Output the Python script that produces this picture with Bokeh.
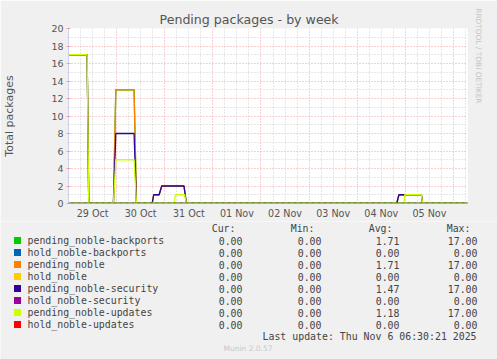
from bokeh.plotting import figure
from bokeh.models import Range1d, FixedTicker, Span, Title
from bokeh.layouts import column
from bokeh.core.properties import value
from bokeh.embed import file_html
from bokeh.resources import INLINE

# ---------------- data (hours since 29 Oct 00:00) ----------------
series_names = ["pending_noble-backports", "hold_noble-backports", "pending_noble",
                "hold_noble", "pending_noble-security", "hold_noble-security",
                "pending_noble-updates", "hold_noble-updates"]
series_colors = ["#00CC00", "#0066B3", "#FF8000", "#FFCC00",
                 "#330099", "#990099", "#CCFF00", "#FF0000"]

hours_noble = [0, 9.3, 10.1, 22.4, 23.6, 32.7, 33.9, 41.7, 42.5, 45.2, 46.5, 57.6, 58.8,
               163.7, 164.8, 176.0, 176.6, 199]
vals_backports = [17, 17, 0, 0, 13, 13, 0, 0, 1, 1, 2, 2, 0, 0, 1, 1, 0, 0]
vals_noble = [17, 17, 0, 0, 13, 13, 0, 0, 1, 1, 2, 2, 0, 0, 1, 1, 0, 0]
vals_security = [17, 17, 0, 0, 8, 8, 0, 0, 1, 1, 2, 2, 0, 0, 1, 1, 0, 0]
hours_updates = [0, 9.3, 10.1, 22.4, 23.6, 32.7, 33.9, 52.6, 53.4, 57.9, 58.8,
                 167.3, 167.7, 176.0, 176.6, 199]
vals_updates = [17, 17, 0, 0, 5, 5, 0, 0, 1, 1, 0, 0, 1, 1, 0, 0]
hours_hold = [0, 199]
vals_hold = [0, 0]

day_label_hours = [12, 36, 60, 84, 108, 132, 156, 180]
day_labels = ["29 Oct", "30 Oct", "31 Oct", "01 Nov", "02 Nov", "03 Nov", "04 Nov", "05 Nov"]
midnight_hours = [0, 24, 48, 72, 96, 120, 144, 168, 192]
six_hour_marks = [h for h in range(6, 199, 6) if h % 24 != 0]
y_major = list(range(0, 21, 2))
y_minor = list(range(1, 20, 2))

cur_vals = [0.00, 0.00, 0.00, 0.00, 0.00, 0.00, 0.00, 0.00]
min_vals = [0.00, 0.00, 0.00, 0.00, 0.00, 0.00, 0.00, 0.00]
avg_vals = [1.71, 0.00, 1.71, 0.00, 1.47, 0.00, 1.18, 0.00]
max_vals = [17.00, 0.00, 17.00, 0.00, 17.00, 0.00, 17.00, 0.00]
stat_headers = ["Cur:", "Min:", "Avg:", "Max:"]

title = "Pending packages - by week"
y_label = "Total packages"
last_update = "Last update: Thu Nov  6 06:30:21 2025"
munin_version = "Munin 2.0.57"
rrd_credit = "RRDTOOL / TOBI OETIKER"

# ---------------- layout ----------------
W, H = 497, 359
HA = 221                      # chart part height
HB = H - HA                   # legend part height
FL, FR, FT, FB = 67, 467, 28, 203
XMAX, YMAX = 199, 20
BG = "#F0F0F0"
TXT = "#555555"
PINK = "#F2A0A0"
GRAY = "#CFCFCF"

p = figure(width=W, height=HA, output_backend="svg", toolbar_location=None,
           x_range=Range1d(0, XMAX), y_range=Range1d(0, YMAX),
           min_border_left=FL, min_border_right=W - FR,
           min_border_top=FT, min_border_bottom=HA - FB)
p.background_fill_color = "white"
p.border_fill_color = BG
p.outline_line_color = None

# title
p.title.text = title
p.title.align = "left"
p.title.offset = 91
p.title.standoff = 3
p.title.text_font = "DejaVu Sans"
p.title.text_font_size = "12.6px"
p.title.text_font_style = "normal"
p.title.text_color = TXT

# right-side credit
p.add_layout(Title(text=rrd_credit, align="right", offset=100, standoff=13,
                   text_font="DejaVu Sans", text_font_size="7.4px",
                   text_font_style="normal", text_color="#C4C4C4"), "right")

# x axis
p.xaxis.ticker = FixedTicker(ticks=day_label_hours)
p.xaxis.major_label_overrides = {h: l for h, l in zip(day_label_hours, day_labels)}
p.xaxis.major_tick_out = 0
p.xaxis.major_tick_in = 0
p.xaxis.minor_tick_out = 0
p.xaxis.minor_tick_in = 0
p.xaxis.major_tick_line_color = None
p.xaxis.minor_tick_line_color = None
p.xaxis.axis_line_color = "#D0D0F0"
p.xaxis.major_label_text_font = "DejaVu Sans"
p.xaxis.major_label_text_font_size = "9.6px"
p.xaxis.major_label_text_color = TXT
p.xaxis.major_label_standoff = 4
p.xgrid.ticker = FixedTicker(ticks=midnight_hours, minor_ticks=six_hour_marks)
p.xgrid.grid_line_color = PINK
p.xgrid.grid_line_dash = "1 2"
p.xgrid.minor_grid_line_color = GRAY
p.xgrid.minor_grid_line_dash = "1 2"

# y axis
p.yaxis.ticker = FixedTicker(ticks=y_major, minor_ticks=y_minor)
p.yaxis.major_tick_line_color = PINK
p.yaxis.major_tick_out = 2
p.yaxis.major_tick_in = 2
p.yaxis.minor_tick_line_color = GRAY
p.yaxis.minor_tick_out = 1
p.yaxis.minor_tick_in = 1
p.yaxis.axis_line_color = "#D0D0F0"
p.yaxis.major_label_text_font = "DejaVu Sans"
p.yaxis.major_label_text_font_size = "9.5px"
p.yaxis.major_label_text_color = TXT
p.yaxis.major_label_standoff = 3
p.yaxis.axis_label = y_label
p.yaxis.axis_label_text_font = "DejaVu Sans"
p.yaxis.axis_label_text_font_size = "11px"
p.yaxis.axis_label_text_font_style = "normal"
p.yaxis.axis_label_text_color = TXT
p.yaxis.axis_label_standoff = 32
p.ygrid.grid_line_color = PINK
p.ygrid.grid_line_dash = "1 2"
p.ygrid.minor_grid_line_color = GRAY
p.ygrid.minor_grid_line_dash = "1 2"

# series lines (munin draw order)
series_data = [
    (hours_noble, vals_backports),
    (hours_hold, vals_hold),
    (hours_noble, vals_noble),
    (hours_hold, vals_hold),
    (hours_noble, vals_security),
    (hours_hold, vals_hold),
    (hours_updates, vals_updates),
    (hours_hold, vals_hold),
]
for (xs, ys), c in zip(series_data, series_colors):
    p.line(xs, ys, line_color=c, line_width=1.3)

# zero line look: green with pink dashes
p.add_layout(Span(location=0, dimension="width", line_color="#00CC00", line_width=2))
p.add_layout(Span(location=0, dimension="width", line_color=PINK, line_width=2, line_dash="3 3"))

# ---------------- legend part (pixel coordinates, y downward) ----------------
q = figure(width=W, height=HB, output_backend="svg", toolbar_location=None,
           x_range=Range1d(0, W), y_range=Range1d(HB, 0),
           x_axis_type=None, y_axis_type=None,
           min_border_left=0, min_border_right=0, min_border_top=0, min_border_bottom=0)
q.background_fill_color = BG
q.border_fill_color = BG
q.outline_line_color = None
q.xgrid.visible = False
q.ygrid.visible = False

for fig in (p, q):
    if hasattr(fig, "frame_align"):
        fig.frame_align = False

MONO = value("DejaVu Sans Mono")
FS = value("9.9px")
LEG = "#444444"
Y0 = 240 - HA        # first legend row (canvas y 240)
ROW = 12
HDR_Y = 228 - HA
head_ends = [235, 314, 392, 470]
col_ends = [242, 321, 399, 477]

rows_y = [Y0 + ROW * i for i in range(len(series_names))]

q.scatter(x=[17] * len(series_names), y=rows_y, marker="square", size=7,
          fill_color=series_colors, line_color=None)
q.text(x=[27] * len(series_names), y=rows_y, text=series_names, text_font=MONO,
       text_font_size=FS, text_color=LEG, text_align="left", text_baseline="middle")
q.text(x=head_ends, y=[HDR_Y] * 4, text=stat_headers, text_font=MONO, text_font_size=FS,
       text_color=LEG, text_align="right", text_baseline="middle")
for vals, xr in zip([cur_vals, min_vals, avg_vals, max_vals], col_ends):
    q.text(x=[xr] * len(vals), y=rows_y, text=["%.2f" % v for v in vals], text_font=MONO,
           text_font_size=FS, text_color=LEG, text_align="right", text_baseline="middle")
q.text(x=[482], y=[336 - HA], text=[last_update], text_font=MONO, text_font_size=FS,
       text_color=LEG, text_align="right", text_baseline="middle")
q.text(x=[247.5], y=[348 - HA], text=[munin_version], text_font=value("DejaVu Sans"),
       text_font_size=value("7.5px"), text_color="#C8C8C8", text_align="center",
       text_baseline="middle")

layout = column(p, q, spacing=0)
open("out.html", "w").write(file_html(layout, INLINE))
